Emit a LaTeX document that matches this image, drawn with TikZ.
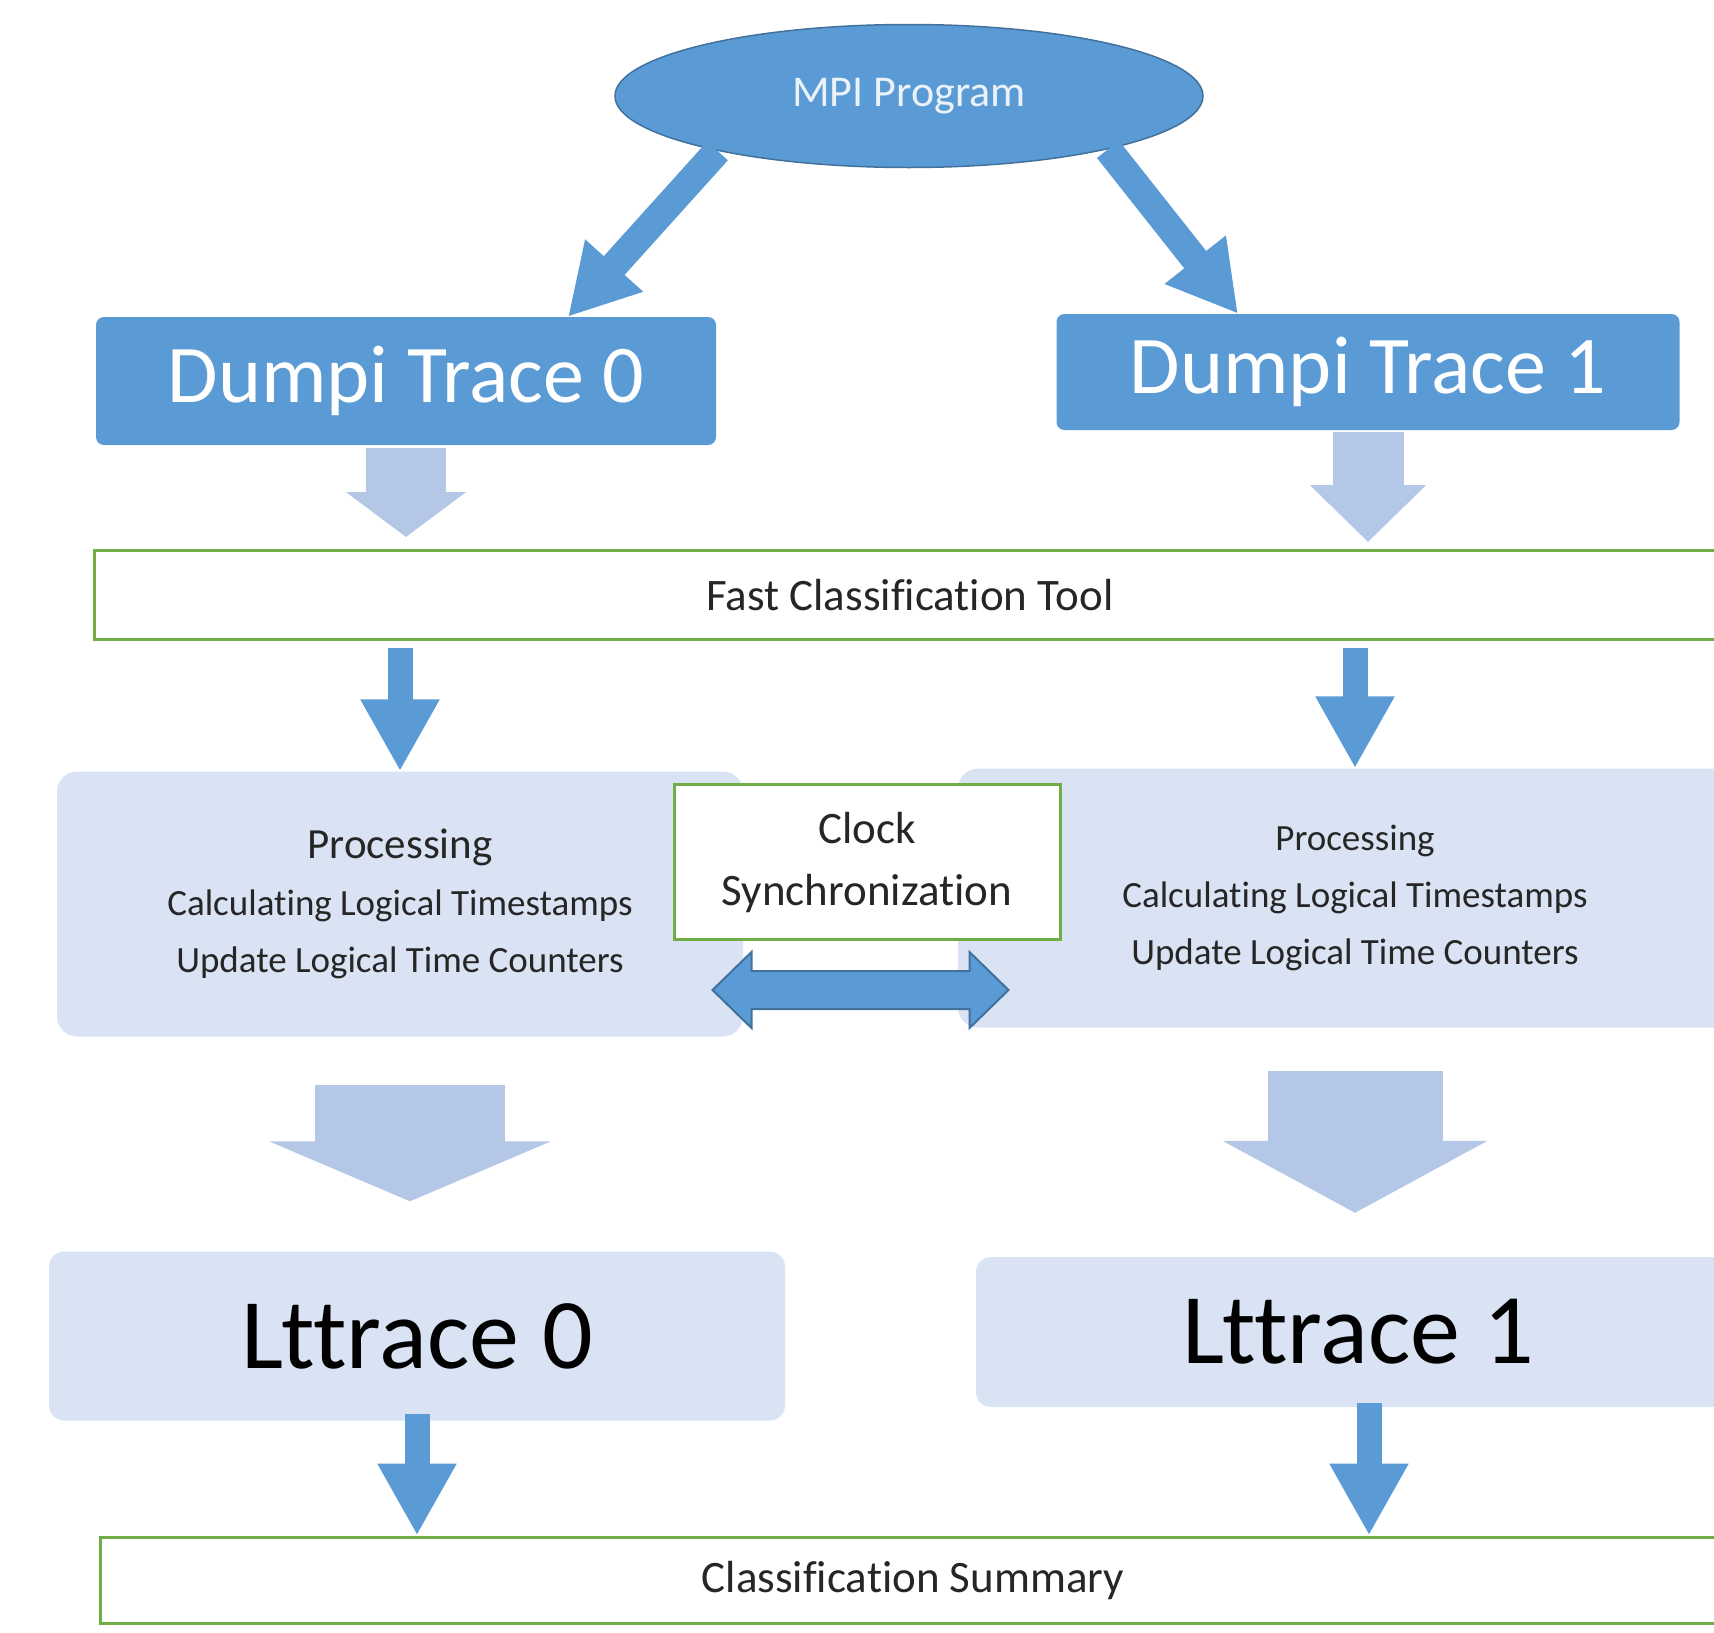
\documentclass[tikz,border=0pt]{standalone}
\usepackage{fontspec}
\setmainfont{Carlito}[Ligatures=NoCommon]
\usetikzlibrary{shapes.geometric,arrows.meta}
\definecolor{mpiblue}{HTML}{5B9BD5}
\definecolor{mpiedge}{HTML}{41719C}
\definecolor{boxfill}{HTML}{DAE3F3}
\definecolor{arrowfill}{HTML}{B4C7E7}
\definecolor{toolgreen}{HTML}{70AD47}
\definecolor{ink}{HTML}{262626}

\begin{document}
\begin{tikzpicture}
[x=1pt,y=-1pt,
trace/.style={rectangle,fill=mpiblue,rounded corners=8pt,inner sep=0pt,text=white,font=\fontsize{82}{90}\selectfont},
proc/.style={rectangle,fill=boxfill,rounded corners=20pt,inner sep=0pt,text=ink,align=center},
lttr/.style={rectangle,fill=boxfill,rounded corners=15pt,inner sep=0pt,text=black,font=\fontsize{100}{110}\selectfont},
tool/.style={rectangle,draw=toolgreen,line width=3pt,fill=white,inner sep=0pt,text=ink,font=\fontsize{45}{54}\selectfont},
darkarrow/.style={draw=mpiblue,line width=25pt,-{Triangle[length=72pt,width=74pt]}},
diagarrow/.style={draw=mpiblue,line width=28pt,-{Triangle[length=69pt,width=73pt]}},
lightarrow/.style={draw=arrowfill},
syncarrow/.style={fill=mpiblue,draw=mpiedge,line width=2pt,line join=miter}]
\useasboundingbox (0,0) rectangle (1714,1633);
\clip (0,0) rectangle (1714,1633);
\node[ellipse,fill=mpiblue,draw=mpiedge,line width=1.5pt,minimum width=588pt,minimum height=143pt,inner sep=0pt,
  text={rgb,255:red,235;green,242;blue,250},font=\fontsize{44}{50}\selectfont] at (909,96) (mpi) {MPI Program};
\node[trace,minimum width=620pt,minimum height=128pt] at (406,381) (d0) {Dumpi Trace 0};
\node[trace,minimum width=623pt,minimum height=116pt] at (1368,372) (d1) {Dumpi Trace 1};
\node[tool,minimum width=1632pt,minimum height=89pt] at (910,595) (fct) {Fast Classification Tool};
\node[proc,minimum width=686pt,minimum height=265pt,font=\fontsize{37}{57}\selectfont] at (400,904) (p0)
  {{\fontsize{43}{57}\selectfont Processing}\\Calculating Logical Timestamps\\Update Logical Time Counters};
\node[proc,minimum width=794pt,minimum height=259pt,font=\fontsize{37}{57}\selectfont] at (1355,898) (p1)
  {Processing\\Calculating Logical Timestamps\\Update Logical Time Counters};
\node[tool,minimum width=386pt,minimum height=155pt,align=center,font=\fontsize{45}{62}\selectfont] at (867,862) (clk)
  {Clock\\Synchronization};
\node[lttr,minimum width=736pt,minimum height=169pt] at (417,1336) (l0) {Lttrace 0};
\node[lttr,minimum width=764pt,minimum height=150pt] at (1358,1332) (l1) {Lttrace 1};
\node[tool,minimum width=1626pt,minimum height=86pt] at (913,1580) (cs) {Classification Summary};
% program to traces
\draw[diagarrow] (mpi.196) -- ([xshift=162pt]d0.north);
\draw[diagarrow] (mpi.345) -- ([xshift=-130pt]d1.north);
% traces into the tool
\draw[lightarrow,line width=80pt,-{Triangle[length=45pt,width=118pt]},shorten <=3pt,shorten >=12pt] (d0.south) -- (d0.south |- fct.north);
\draw[lightarrow,line width=71pt,-{Triangle[length=57pt,width=113pt]},shorten <=2pt,shorten >=7pt] (d1.south) -- (d1.south |- fct.north);
\draw[darkarrow,shorten <=7pt] (fct.south -| p0.north) -- (p0.north);
\draw[darkarrow,shorten <=7pt] (fct.south -| p1.north) -- (p1.north);
% clock sync between the two
\coordinate (sync) at ([xshift=-6.5pt,yshift=-49pt]clk.south);
\draw[syncarrow,shift={(sync)}] (-148,0) -- (-109,-38) -- (-109,-19) -- (109,-19) -- (109,-38) -- (148,0)
  -- (109,38) -- (109,19) -- (-109,19) -- (-109,38) -- cycle;
% results
\draw[lightarrow,line width=190pt,-{Triangle[length=60pt,width=280pt]},shorten <=48pt,shorten >=50pt] ([xshift=10pt]p0.south) -- ([xshift=10pt]p0.south |- l0.north);
\draw[lightarrow,line width=175pt,-{Triangle[length=72pt,width=262pt]},shorten <=43pt,shorten >=44pt] (p1.south) -- (p1.south |- l1.north);
\draw[darkarrow,shorten <=-7pt] (l0.south) -- (l0.south |- cs.north);
\draw[darkarrow,shorten <=-4pt] ([xshift=11pt]l1.south) -- ([xshift=11pt]l1.south |- cs.north);
\end{tikzpicture}
\end{document}
